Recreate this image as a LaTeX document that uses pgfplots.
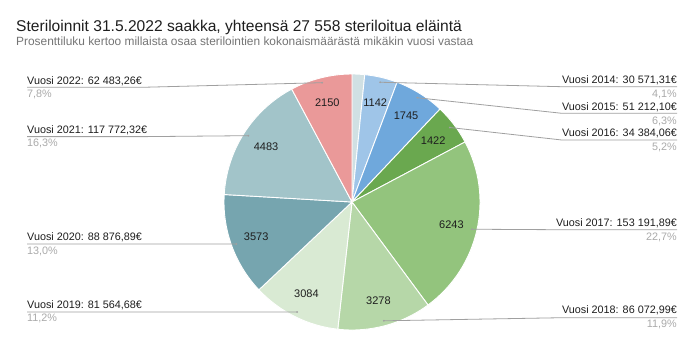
\documentclass[border=0pt]{standalone}
\usepackage{pgfplots}
\pgfplotsset{compat=1.18}
\usepackage{pgfplotstable}
\usepackage{fontspec}
\setmainfont{Liberation Sans}

\definecolor{sc0}{HTML}{D0E0E3}
\definecolor{sc1}{HTML}{9FC5E8}
\definecolor{sc2}{HTML}{6FA8DC}
\definecolor{sc3}{HTML}{6AA84F}
\definecolor{sc4}{HTML}{93C47D}
\definecolor{sc5}{HTML}{B6D7A8}
\definecolor{sc6}{HTML}{D9EAD3}
\definecolor{sc7}{HTML}{76A5AF}
\definecolor{sc8}{HTML}{A2C4C9}
\definecolor{sc9}{HTML}{EA9999}
\definecolor{txt}{HTML}{1E1E1E}
\definecolor{sub}{HTML}{757575}
\definecolor{pctc}{HTML}{AAAAAA}
\definecolor{lead}{HTML}{A0A0A0}

\tikzset{
  lab/.style={inner sep=0pt,text=txt,font=\fontsize{10.8}{13}\selectfont},
  pct/.style={inner sep=0pt,text=pctc,font=\fontsize{10.8}{13}\selectfont},
  leader/.style={draw=lead,line width=0.8pt}}

\pgfplotstableread[col sep=comma]{
year,v
2013,438
2014,1142
2015,1745
2016,1422
2017,6243
2018,3278
2019,3084
2020,3573
2021,4483
2022,2150
}\slices

% total (in thousands, to stay inside pgfmath range)
\pgfmathsetmacro\tot{0}
\pgfplotsforeachungrouped \i in {0,...,9}{%
  \pgfplotstablegetelem{\i}{v}\of\slices
  \pgfmathsetmacro\tot{\tot+\pgfplotsretval/1000}%
}
% start, end, middle angles (clockwise from top)
\def\cum{90}
\pgfplotsforeachungrouped \i in {0,...,9}{%
  \pgfplotstablegetelem{\i}{v}\of\slices
  \expandafter\xdef\csname sv\i\endcsname{\pgfplotsretval}%
  \pgfmathsetmacro\sw{\pgfplotsretval/1000/\tot*360}%
  \expandafter\xdef\csname sa\i\endcsname{\cum}%
  \pgfmathsetmacro\cumnew{\cum-\sw}%
  \expandafter\xdef\csname se\i\endcsname{\cumnew}%
  \pgfmathsetmacro\smid{\cum-\sw/2}%
  \expandafter\xdef\csname sm\i\endcsname{\smid}%
  \let\cum\cumnew
}

\begin{document}
\begin{tikzpicture}
\begin{axis}[width=700pt,height=346pt,scale only axis,
  xmin=0,xmax=700,ymin=0,ymax=346,y dir=reverse,hide axis,clip=false]
\fill[white] (rel axis cs:0,0) rectangle (rel axis cs:1,1);
% slices
\pgfplotsinvokeforeach{0,...,9}{%
  \filldraw[fill=sc#1,draw=white,line width=0.9pt,line join=round]
    (axis cs:352,202) -- ++(\csname sa#1\endcsname:128pt)
    arc[start angle=\csname sa#1\endcsname,end angle=\csname se#1\endcsname,radius=128pt] -- cycle;
}
% value labels and leader dots
\pgfplotsinvokeforeach{1,...,9}{%
  \path (axis cs:352,202) ++(\csname sm#1\endcsname:102pt)
    node[text=txt,font=\fontsize{11}{13}\selectfont] {\csname sv#1\endcsname};
  \path (axis cs:352,202) ++(\csname sm#1\endcsname:123pt) coordinate (d#1);
}
% titles
\node[anchor=base west,inner sep=0pt,text=txt,font=\fontsize{15.6}{18}\selectfont]
  at (axis cs:16,31.5) {Steriloinnit 31.5.2022 saakka, yhteensä 27 558 steriloitua eläintä};
\node[anchor=base west,inner sep=0pt,text=sub,font=\fontsize{11.9}{14}\selectfont]
  at (axis cs:16,45.5) {Prosenttiluku kertoo millaista osaa sterilointien kokonaismäärästä mikäkin vuosi vastaa};
% left labels
\node[lab,anchor=base west] (L9) at (axis cs:27,84) {Vuosi 2022: 62 483,26€};
\node[lab,anchor=base west] (L8) at (axis cs:27,133.3) {Vuosi 2021: 117 772,32€};
\node[lab,anchor=base west] (L7) at (axis cs:27,240.7) {Vuosi 2020: 88 876,89€};
\node[lab,anchor=base west] (L6) at (axis cs:27,308.3) {Vuosi 2019: 81 564,68€};
% right labels
\node[lab,anchor=base east] (L1) at (axis cs:677,83.3) {Vuosi 2014: 30 571,31€};
\node[lab,anchor=base east] (L2) at (axis cs:677,110) {Vuosi 2015: 51 212,10€};
\node[lab,anchor=base east] (L3) at (axis cs:677,136.7) {Vuosi 2016: 34 384,06€};
\node[lab,anchor=base east] (L4) at (axis cs:677,226) {Vuosi 2017: 153 191,89€};
\node[lab,anchor=base east] (L5) at (axis cs:677,313.3) {Vuosi 2018: 86 072,99€};
% percentages
\node[pct,anchor=base west] at ([yshift=-13.5pt]L9.base west) {7,8\%};
\node[pct,anchor=base west] at ([yshift=-13.5pt]L8.base west) {16,3\%};
\node[pct,anchor=base west] at ([yshift=-13.5pt]L7.base west) {13,0\%};
\node[pct,anchor=base west] at ([yshift=-13.5pt]L6.base west) {11,2\%};
\node[pct,anchor=base east] at ([yshift=-14pt]L1.base east) {4,1\%};
\node[pct,anchor=base east] at ([yshift=-14pt]L2.base east) {6,3\%};
\node[pct,anchor=base east] at ([yshift=-14pt]L3.base east) {5,2\%};
\node[pct,anchor=base east] at ([yshift=-14pt]L4.base east) {22,7\%};
\node[pct,anchor=base east] at ([yshift=-14pt]L5.base east) {11,9\%};
% leader lines
\draw[leader] ([yshift=-3.3pt]L9.base west) -- ([yshift=-3.3pt]L9.base east) -- (d9);
\draw[leader] ([yshift=-3.3pt]L8.base west) -- ([yshift=-3.3pt]L8.base east) -- (d8);
\draw[leader] ([yshift=-3.3pt]L7.base west) -- ([yshift=-3.3pt]L7.base east) -- (d7);
\draw[leader] ([yshift=-3.6pt]L6.base west) -- ([yshift=-3.6pt]L6.base east) -- (d6);
\draw[leader] ([yshift=-3.4pt]L1.base east) -- ([yshift=-3.4pt]L1.base west) -- (d1);
\draw[leader] ([yshift=-3.3pt]L2.base east) -- ([yshift=-3.3pt]L2.base west) -- (d2);
\draw[leader] ([yshift=-3.3pt]L3.base east) -- ([yshift=-3.3pt]L3.base west) -- (d3);
\draw[leader] ([yshift=-3.7pt]L4.base east) -- ([yshift=-3.7pt]L4.base west) -- (d4);
\draw[leader] ([yshift=-4.4pt]L5.base east) -- ([yshift=-4.4pt]L5.base west) -- (d5);
\pgfplotsinvokeforeach{1,...,9}{%
  \fill[lead] (d#1) circle (1pt);
}
\end{axis}
\end{tikzpicture}
\end{document}
